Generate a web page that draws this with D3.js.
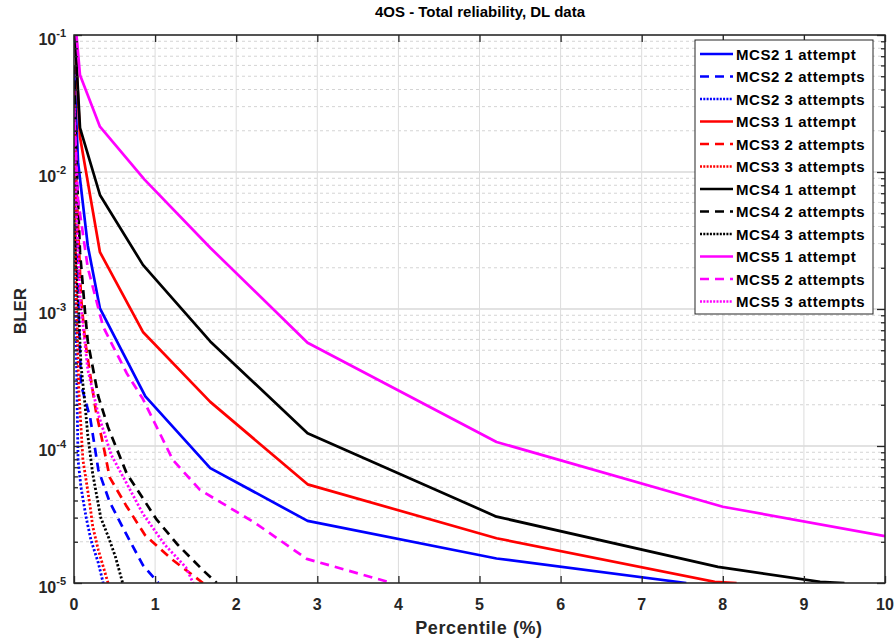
<!DOCTYPE html>
<html>
<head>
<meta charset="utf-8">
<script src="https://cdn.jsdelivr.net/npm/d3@7"></script>
<style>
  html, body { margin: 0; padding: 0; background: #fff; }
  svg { display: block; font-family: "Liberation Sans", Arial, sans-serif; }
</style>
</head>
<body>
<svg id="chart" width="895" height="639"></svg>
<script>
// ---------- data (percentile %, BLER) ----------
const mcs2_1 = [[0,0.06],[0.05,0.0118],[0.17,0.0029],[0.32,0.00101],[0.88,0.00023],[1.68,6.9e-5],[2.88,2.84e-5],[5.21,1.51e-5],[7.55,1.0e-5]];
const mcs2_2 = [[0,0.04],[0.03,0.003],[0.086,2.8e-4],[0.20,1.6e-4],[0.30,6.7e-5],[0.44,3.9e-5],[0.64,2.3e-5],[0.85,1.35e-5],[1.04,1.0e-5]];
const mcs2_3 = [[0,0.02],[0.015,0.0015],[0.05,7.9e-5],[0.086,5.0e-5],[0.15,3.0e-5],[0.21,2.05e-5],[0.30,1.4e-5],[0.36,1.0e-5]];
const mcs3_1 = [[0,0.14],[0.074,0.018],[0.32,0.0026],[0.85,6.8e-4],[1.68,2.1e-4],[2.88,5.25e-5],[5.21,2.12e-5],[7.9,1.02e-5],[8.17,1.0e-5]];
const mcs3_2 = [[0,0.04],[0.03,0.008],[0.086,1.23e-3],[0.136,5.9e-4],[0.20,3.3e-4],[0.27,1.8e-4],[0.36,1.02e-4],[0.44,5.9e-5],[0.64,3.7e-5],[0.875,2.24e-5],[1.20,1.5e-5],[1.59,1.0e-5]];
const mcs3_3 = [[0,0.025],[0.02,0.002],[0.06,2.5e-4],[0.11,7.9e-5],[0.15,5.6e-5],[0.20,3.6e-5],[0.23,2.6e-5],[0.30,1.74e-5],[0.42,1.0e-5]];
const mcs4_1 = [[0,0.135],[0.074,0.021],[0.32,0.0068],[0.85,0.0021],[1.68,5.8e-4],[2.88,1.24e-4],[5.21,3.05e-5],[7.94,1.31e-5],[9.2,1.02e-5],[9.5,1.0e-5]];
const mcs4_2 = [[0,0.06],[0.03,0.012],[0.074,2.6e-3],[0.136,9.5e-4],[0.17,5.8e-4],[0.30,2.3e-4],[0.42,1.37e-4],[0.65,6.3e-5],[1.02,2.9e-5],[1.28,1.9e-5],[1.59,1.24e-5],[1.76,1.0e-5]];
const mcs4_3 = [[0,0.03],[0.02,0.003],[0.086,3.9e-4],[0.136,2.0e-4],[0.17,1.2e-4],[0.23,6.3e-5],[0.33,3.0e-5],[0.42,2.2e-5],[0.51,1.56e-5],[0.60,1.0e-5]];
const mcs5_1 = [[0,0.16],[0.074,0.051],[0.32,0.0214],[0.87,0.0088],[1.68,0.0028],[2.88,5.67e-4],[5.21,1.07e-4],[8.0,3.6e-5],[10,2.2e-5]];
const mcs5_2 = [[0,0.03],[0.05,6.25e-3],[0.17,2.0e-3],[0.36,7.4e-4],[0.65,3.4e-4],[0.85,2.2e-4],[1.22,7.9e-5],[1.55,4.8e-5],[2.23,2.75e-5],[2.87,1.5e-5],[3.92,1.0e-5]];
const mcs5_3 = [[0,0.03],[0.03,0.005],[0.074,1.2e-3],[0.17,3.6e-4],[0.30,1.7e-4],[0.46,8.6e-5],[0.63,5.6e-5],[0.85,3.2e-5],[1.12,1.9e-5],[1.38,1.3e-5],[1.47,1.0e-5]];

const seriesNames = ["MCS2 1 attempt","MCS2 2 attempts","MCS2 3 attempts",
                     "MCS3 1 attempt","MCS3 2 attempts","MCS3 3 attempts",
                     "MCS4 1 attempt","MCS4 2 attempts","MCS4 3 attempts",
                     "MCS5 1 attempt","MCS5 2 attempts","MCS5 3 attempts"];
const seriesData = [mcs2_1,mcs2_2,mcs2_3,mcs3_1,mcs3_2,mcs3_3,mcs4_1,mcs4_2,mcs4_3,mcs5_1,mcs5_2,mcs5_3];
const seriesColors = ["#0000ff","#0000ff","#0000ff","#ff0000","#ff0000","#ff0000",
                      "#000000","#000000","#000000","#ff00ff","#ff00ff","#ff00ff"];
const seriesStyles = ["solid","dash","dot","solid","dash","dot","solid","dash","dot","solid","dash","dot"];

const xTicks = [0,1,2,3,4,5,6,7,8,9,10];
const yTickExps = [-1,-2,-3,-4,-5];

const titleText = "4OS - Total reliability, DL data";
const xLabel = "Percentile (%)";
const yLabel = "BLER";

// ---------- layout ----------
const svg = d3.select("#chart");
const L = 74, R = 885, T = 35, B = 583;

const x = d3.scaleLinear().domain([0,10]).range([L,R]);
const y = d3.scaleLog().domain([1e-5,1e-1]).range([B,T]);

const dashMap = { solid: null, dash: "9,6", dot: "2.2,2" };

// grid
const grid = svg.append("g");
const minorVals = [];
for (let e = -5; e < -1; e++) for (let m = 2; m <= 9; m++) minorVals.push(m * Math.pow(10, e));
grid.selectAll("line.minor").data(minorVals).enter().append("line")
  .attr("x1", L).attr("x2", R).attr("y1", d => y(d)).attr("y2", d => y(d))
  .attr("stroke", "#d4d4d4").attr("stroke-width", 1).attr("stroke-dasharray", "3,3");
grid.selectAll("line.majorh").data(yTickExps.map(e => Math.pow(10, e))).enter().append("line")
  .attr("x1", L).attr("x2", R).attr("y1", d => y(d)).attr("y2", d => y(d))
  .attr("stroke", "#e2e2e2").attr("stroke-width", 2);
grid.selectAll("line.v").data(xTicks).enter().append("line")
  .attr("x1", d => x(d)).attr("x2", d => x(d)).attr("y1", T).attr("y2", B)
  .attr("stroke", "#dcdcdc").attr("stroke-width", 1);

// lines
svg.append("clipPath").attr("id", "clip").append("rect")
  .attr("x", L).attr("y", T).attr("width", R - L).attr("height", B - T);
const line = d3.line().x(d => x(d[0])).y(d => y(d[1]));
const lg = svg.append("g").attr("clip-path", "url(#clip)");
seriesData.forEach((data, i) => {
  lg.append("path").datum(data)
    .attr("d", line)
    .attr("fill", "none")
    .attr("stroke", seriesColors[i])
    .attr("stroke-width", seriesStyles[i] === "dot" ? 2.8 : 2.7)
    .attr("stroke-dasharray", dashMap[seriesStyles[i]])
    .attr("stroke-linejoin", "round");
});

// axes box + ticks
const ax = svg.append("g");
ax.append("rect").attr("x", L).attr("y", T).attr("width", R - L).attr("height", B - T)
  .attr("fill", "none").attr("stroke", "#262626").attr("stroke-width", 1.5);

ax.append("g").attr("transform", `translate(0,${B})`).call(d3.axisBottom(x).tickValues(xTicks).tickSize(-7).tickFormat(""));
ax.append("g").attr("transform", `translate(0,${T})`).call(d3.axisTop(x).tickValues(xTicks).tickSize(-7).tickFormat(""));
const majorY = yTickExps.map(e => Math.pow(10, e));
ax.append("g").attr("transform", `translate(${L},0)`).call(d3.axisLeft(y).tickValues(majorY).tickSize(-8).tickFormat(""));
ax.append("g").attr("transform", `translate(${R},0)`).call(d3.axisRight(y).tickValues(majorY).tickSize(-8).tickFormat(""));
ax.append("g").attr("transform", `translate(${L},0)`).call(d3.axisLeft(y).tickValues(minorVals).tickSize(-4).tickFormat(""));
ax.append("g").attr("transform", `translate(${R},0)`).call(d3.axisRight(y).tickValues(minorVals).tickSize(-4).tickFormat(""));
ax.selectAll(".domain").remove();
ax.selectAll(".tick line").attr("stroke", "#262626").attr("stroke-width", 1.3);

// tick labels
const tl = svg.append("g").attr("fill", "#262626").attr("font-weight", "bold");
tl.selectAll("text.xt").data(xTicks).enter().append("text")
  .attr("x", d => x(d)).attr("y", 610).attr("text-anchor", "middle")
  .attr("font-size", 16).text(d => d);
yTickExps.forEach(e => {
  const yy = y(Math.pow(10, e));
  const t = tl.append("text").attr("x", 66).attr("y", yy + 10).attr("text-anchor", "end").attr("font-size", 16);
  t.append("tspan").text("10");
  t.append("tspan").attr("font-size", 11).attr("dy", -8).text(String(e));
});

// titles
svg.append("text").attr("x", 480).attr("y", 17).attr("text-anchor", "middle")
  .attr("font-weight", "bold").attr("font-size", 15).attr("fill", "#000").text(titleText);
svg.append("text").attr("x", 479).attr("y", 634).attr("text-anchor", "middle")
  .attr("font-weight", "bold").attr("font-size", 18).attr("letter-spacing", 0.6)
  .attr("fill", "#262626").text(xLabel);
svg.append("text").attr("transform", "translate(26,311) rotate(-90)").attr("text-anchor", "middle")
  .attr("font-weight", "bold").attr("font-size", 17).attr("fill", "#262626").text(yLabel);

// legend
const leg = svg.append("g");
const lx = 695, ly = 40, lw = 178, lh = 274, rowH = 22.5, row0 = 54;
leg.append("rect").attr("x", lx).attr("y", ly).attr("width", lw).attr("height", lh)
  .attr("fill", "#fff").attr("stroke", "#262626").attr("stroke-width", 1);
seriesNames.forEach((name, i) => {
  const yy = row0 + i * rowH;
  leg.append("line").attr("x1", 700).attr("x2", 733).attr("y1", yy).attr("y2", yy)
    .attr("stroke", seriesColors[i]).attr("stroke-width", 2.7)
    .attr("stroke-dasharray", seriesStyles[i] === "dash" ? "9,6" : (seriesStyles[i] === "dot" ? "2,1.3" : null));
  leg.append("text").attr("x", 736).attr("y", yy + 5.5).attr("font-weight", "bold")
    .attr("font-size", 15).attr("letter-spacing", 0.55).attr("fill", "#000").text(name);
});
</script>
</body>
</html>
